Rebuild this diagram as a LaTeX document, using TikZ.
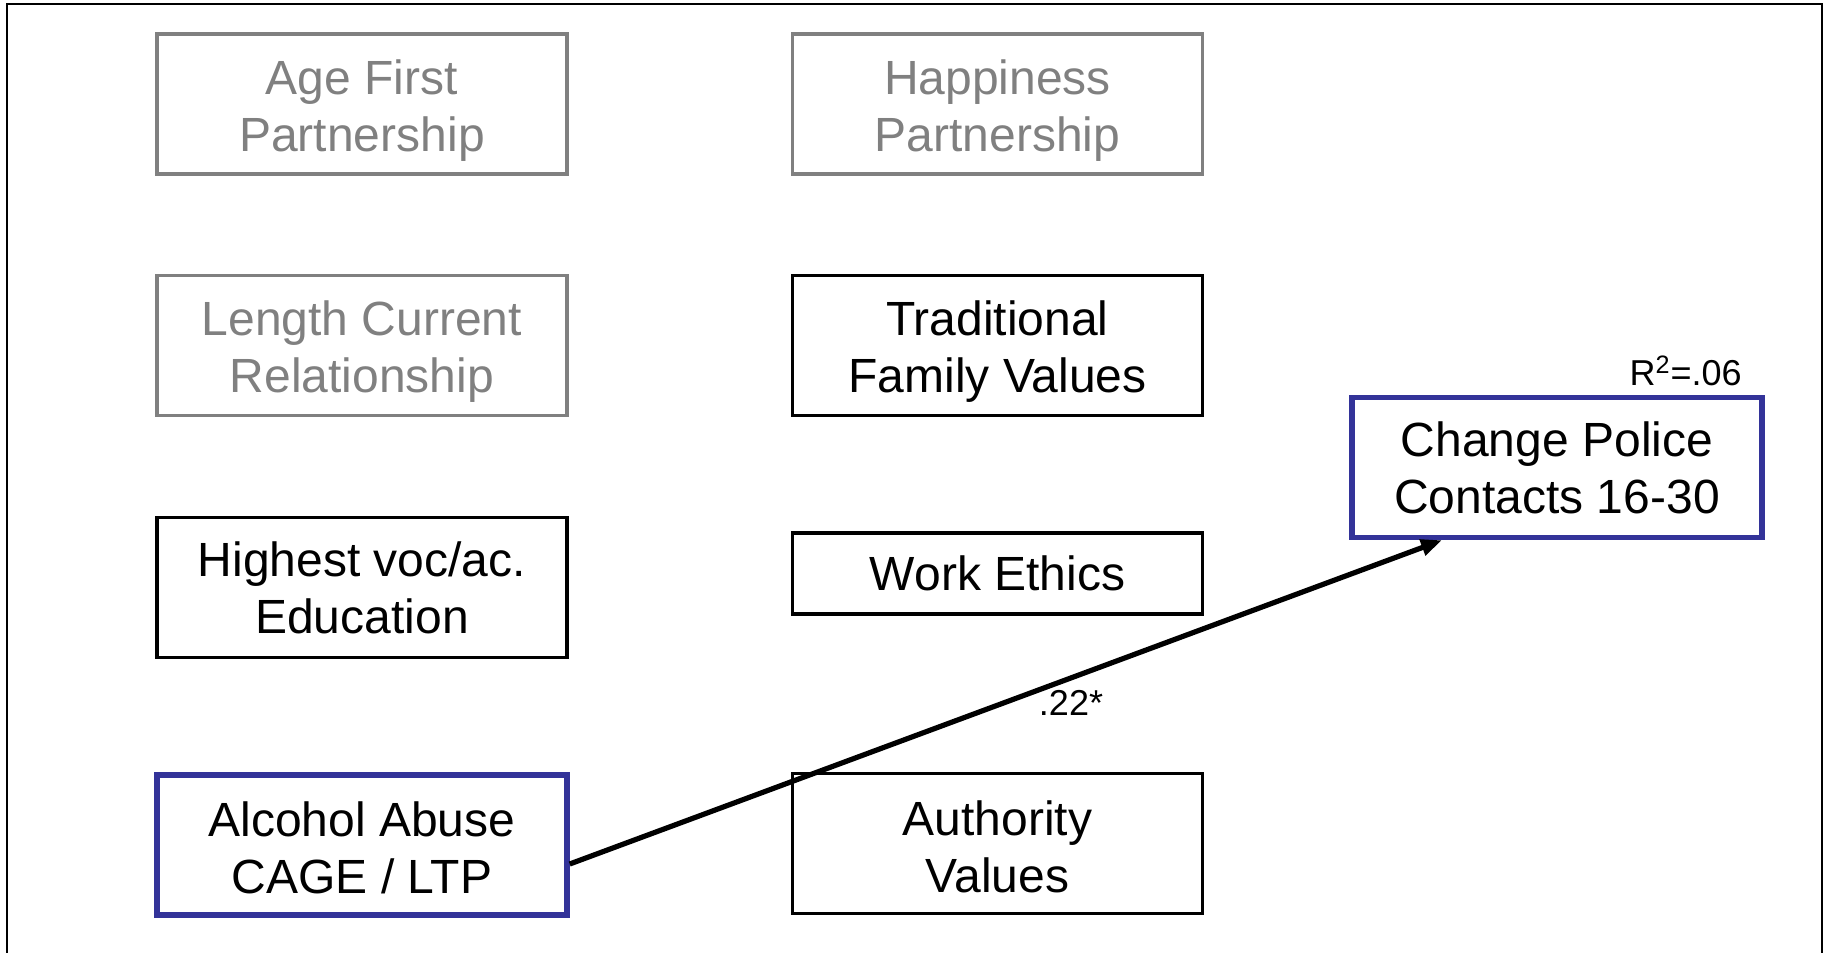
\documentclass[tikz,border=0pt]{standalone}
\usepackage{fontspec}
\setmainfont{Liberation Sans}
\usetikzlibrary{arrows.meta}
\definecolor{boxgray}{RGB}{128,128,128}
\definecolor{boxblue}{RGB}{51,51,153}
\newcommand{\lift}[1][23.5pt]{\rule{0pt}{#1}}
\begin{document}
\begin{tikzpicture}[x=0.5pt, y=-0.5pt, font=\fontsize{24}{28.5}\selectfont]
    % Define styles
    \tikzset{
        var/.style={rectangle, draw, line width=1.8pt, minimum width=205pt, minimum height=70pt, inner sep=0pt, align=center},
        faded/.style={var, draw=boxgray, text=boxgray},
        plain/.style={var, draw=black},
        focus/.style={var, draw=boxblue, line width=2.7pt},
        coef/.style={font=\fontsize{18}{21}\selectfont, inner sep=0pt},
        arrow/.style={-{Triangle[length=10.5pt, width=8pt]}, line width=2.6pt},
    }

    % Canvas and frame
    \useasboundingbox (0,0) rectangle (1826,953);
    \draw[line width=1.1pt] (7,960) -- (7,4) -- (1822,4) -- (1822,960);

    % Left column
    \node[faded] (agefirst) at (362,104) {\lift Age First\\Partnership};
    \node[faded] (length) at (362,345.5) {\lift Length Current\\Relationship};
    \node[plain] (educ) at (362,587.5) {Highest voc/ac.\\Education};
    \node[focus] (alcohol) at (362,845) {\lift[20.5pt]Alcohol Abuse\\CAGE / LTP};

    % Middle column
    \node[faded] (happy) at (997.5,104) {\lift Happiness\\Partnership};
    \node[plain] (family) at (997.5,345.5) {\lift Traditional\\Family Values};
    \node[plain, minimum height=40.5pt] (work) at (997.5,573.5) {Work Ethics};
    \node[plain] (authority) at (997.5,843.5) {\lift[20.5pt]Authority\\Values};

    % Outcome
    \node[focus] (police) at (1557,467.5) {Change Police\\Contacts 16-30};
    \node[coef, anchor=east] (rsq) at (1742,371) {R\textsuperscript{2}=.06};

    % Path
    \draw[arrow] ([yshift=-9.5pt]alcohol.east) -- ([xshift=-57.5pt]police.south);
    \node[coef] (beta) at (1071,703) {.22*};
\end{tikzpicture}
\end{document}
